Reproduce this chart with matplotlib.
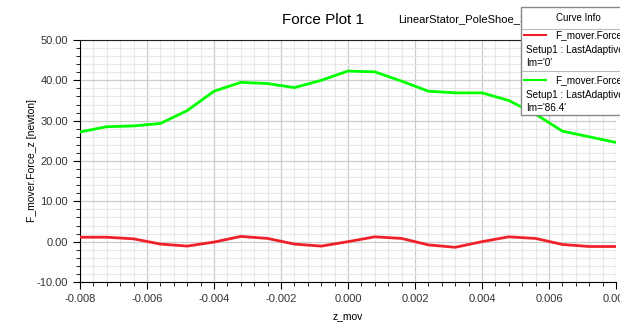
import matplotlib
matplotlib.use("Agg")
import matplotlib.pyplot as plt
from matplotlib.ticker import MultipleLocator, FormatStrFormatter
from matplotlib.patches import Rectangle
from matplotlib.lines import Line2D

plt.rcParams["font.family"] = ["Liberation Sans", "DejaVu Sans"]

# z_mov sweep (21 steps) and force curves
z_mov = [-0.008, -0.0072, -0.0064, -0.0056, -0.0048, -0.004, -0.0032, -0.0024,
         -0.0016, -0.0008, 0.0, 0.0008, 0.0016, 0.0024, 0.0032, 0.004,
         0.0048, 0.0056, 0.0064, 0.0072, 0.008]
force_im0 = [1.1, 1.1, 0.7, -0.6, -1.1, -0.1, 1.3, 0.8, -0.6, -1.1, 0.0,
             1.2, 0.8, -0.8, -1.4, 0.0, 1.2, 0.8, -0.7, -1.2, -1.2]
force_im86 = [27.2, 28.5, 28.7, 29.3, 32.5, 37.3, 39.5, 39.2, 38.2, 40.0, 42.3,
              42.1, 39.8, 37.3, 36.9, 36.9, 35.0, 31.6, 27.4, 26.0, 24.6]

curve_labels = ["F_mover.Force_z", "F_mover.Force_z"]
setup_label = "Setup1 : LastAdaptive"
im_labels = ["Im='0'", "Im='86.4'"]
colors = ["#f0202a", "#00ff00"]

W, H = 620, 322
fig = plt.figure(figsize=(W / 100, H / 100), dpi=100)
ax = fig.add_axes([80 / W, 1 - 282 / H, 536 / W, 242 / H])

ax.plot(z_mov, force_im0, color=colors[0], lw=2.0, zorder=3)
ax.plot(z_mov, force_im86, color=colors[1], lw=2.0, zorder=3)

ax.set_xlim(-0.008, 0.008)
ax.set_ylim(-10, 50)
ax.xaxis.set_major_locator(MultipleLocator(0.002))
ax.xaxis.set_minor_locator(MultipleLocator(0.0004))
ax.yaxis.set_major_locator(MultipleLocator(10))
ax.yaxis.set_minor_locator(MultipleLocator(2))
ax.xaxis.set_major_formatter(FormatStrFormatter("%.3f"))
ax.yaxis.set_major_formatter(FormatStrFormatter("%.2f"))
ax.grid(which="major", color="#cccccc", lw=0.9)
ax.grid(which="minor", color="#e8e8e8", lw=0.8)
ax.set_axisbelow(True)
ax.tick_params(which="major", length=5, labelsize=8, labelcolor="#333333", direction="out")
ax.tick_params(which="minor", length=3, direction="out")
ax.spines["right"].set_visible(False)
ax.spines["top"].set_color("#222222")

def fy(y):
    return 1 - y / H

# axis labels placed like the original export
fig.text(348 / W, fy(316), "z_mov", fontsize=7.5, ha="center", va="center")
fig.text(32 / W, fy(161), "F_mover.Force_z [newton]", fontsize=7.5, rotation=90,
         ha="center", va="center")

fig.text(323 / W, fy(20), "Force Plot 1", fontsize=11, ha="center", va="center")
fig.text(398 / W, fy(20), "LinearStator_PoleShoe_Shape", fontsize=8, ha="left", va="center")

# curve info box
box = Rectangle((521 / W, fy(115)), 110 / W, 108 / H, transform=fig.transFigure,
                facecolor="white", edgecolor="#888888", lw=1.0, zorder=10)
fig.add_artist(box)
fig.text(578 / W, fy(18), "Curve Info", fontsize=7, ha="center", va="center", zorder=11)
for yy in [29, 71]:
    fig.add_artist(Line2D([522 / W, 1], [fy(yy), fy(yy)], transform=fig.transFigure,
                          color="#bbbbbb", lw=0.8, zorder=11))
for i, y0 in enumerate([35, 80]):
    fig.add_artist(Line2D([524 / W, 546 / W], [fy(y0), fy(y0)], transform=fig.transFigure,
                          color=colors[i], lw=1.5, zorder=11))
    fig.text(555 / W, fy(y0), curve_labels[i], fontsize=7.2, ha="left", va="center", zorder=11)
    fig.text(526 / W, fy(y0 + 15), setup_label, fontsize=7.2, ha="left", va="center", zorder=11)
    fig.text(526 / W, fy(y0 + 28), im_labels[i], fontsize=7.2, ha="left", va="center", zorder=11)

fig.savefig("out.png", dpi=100)
